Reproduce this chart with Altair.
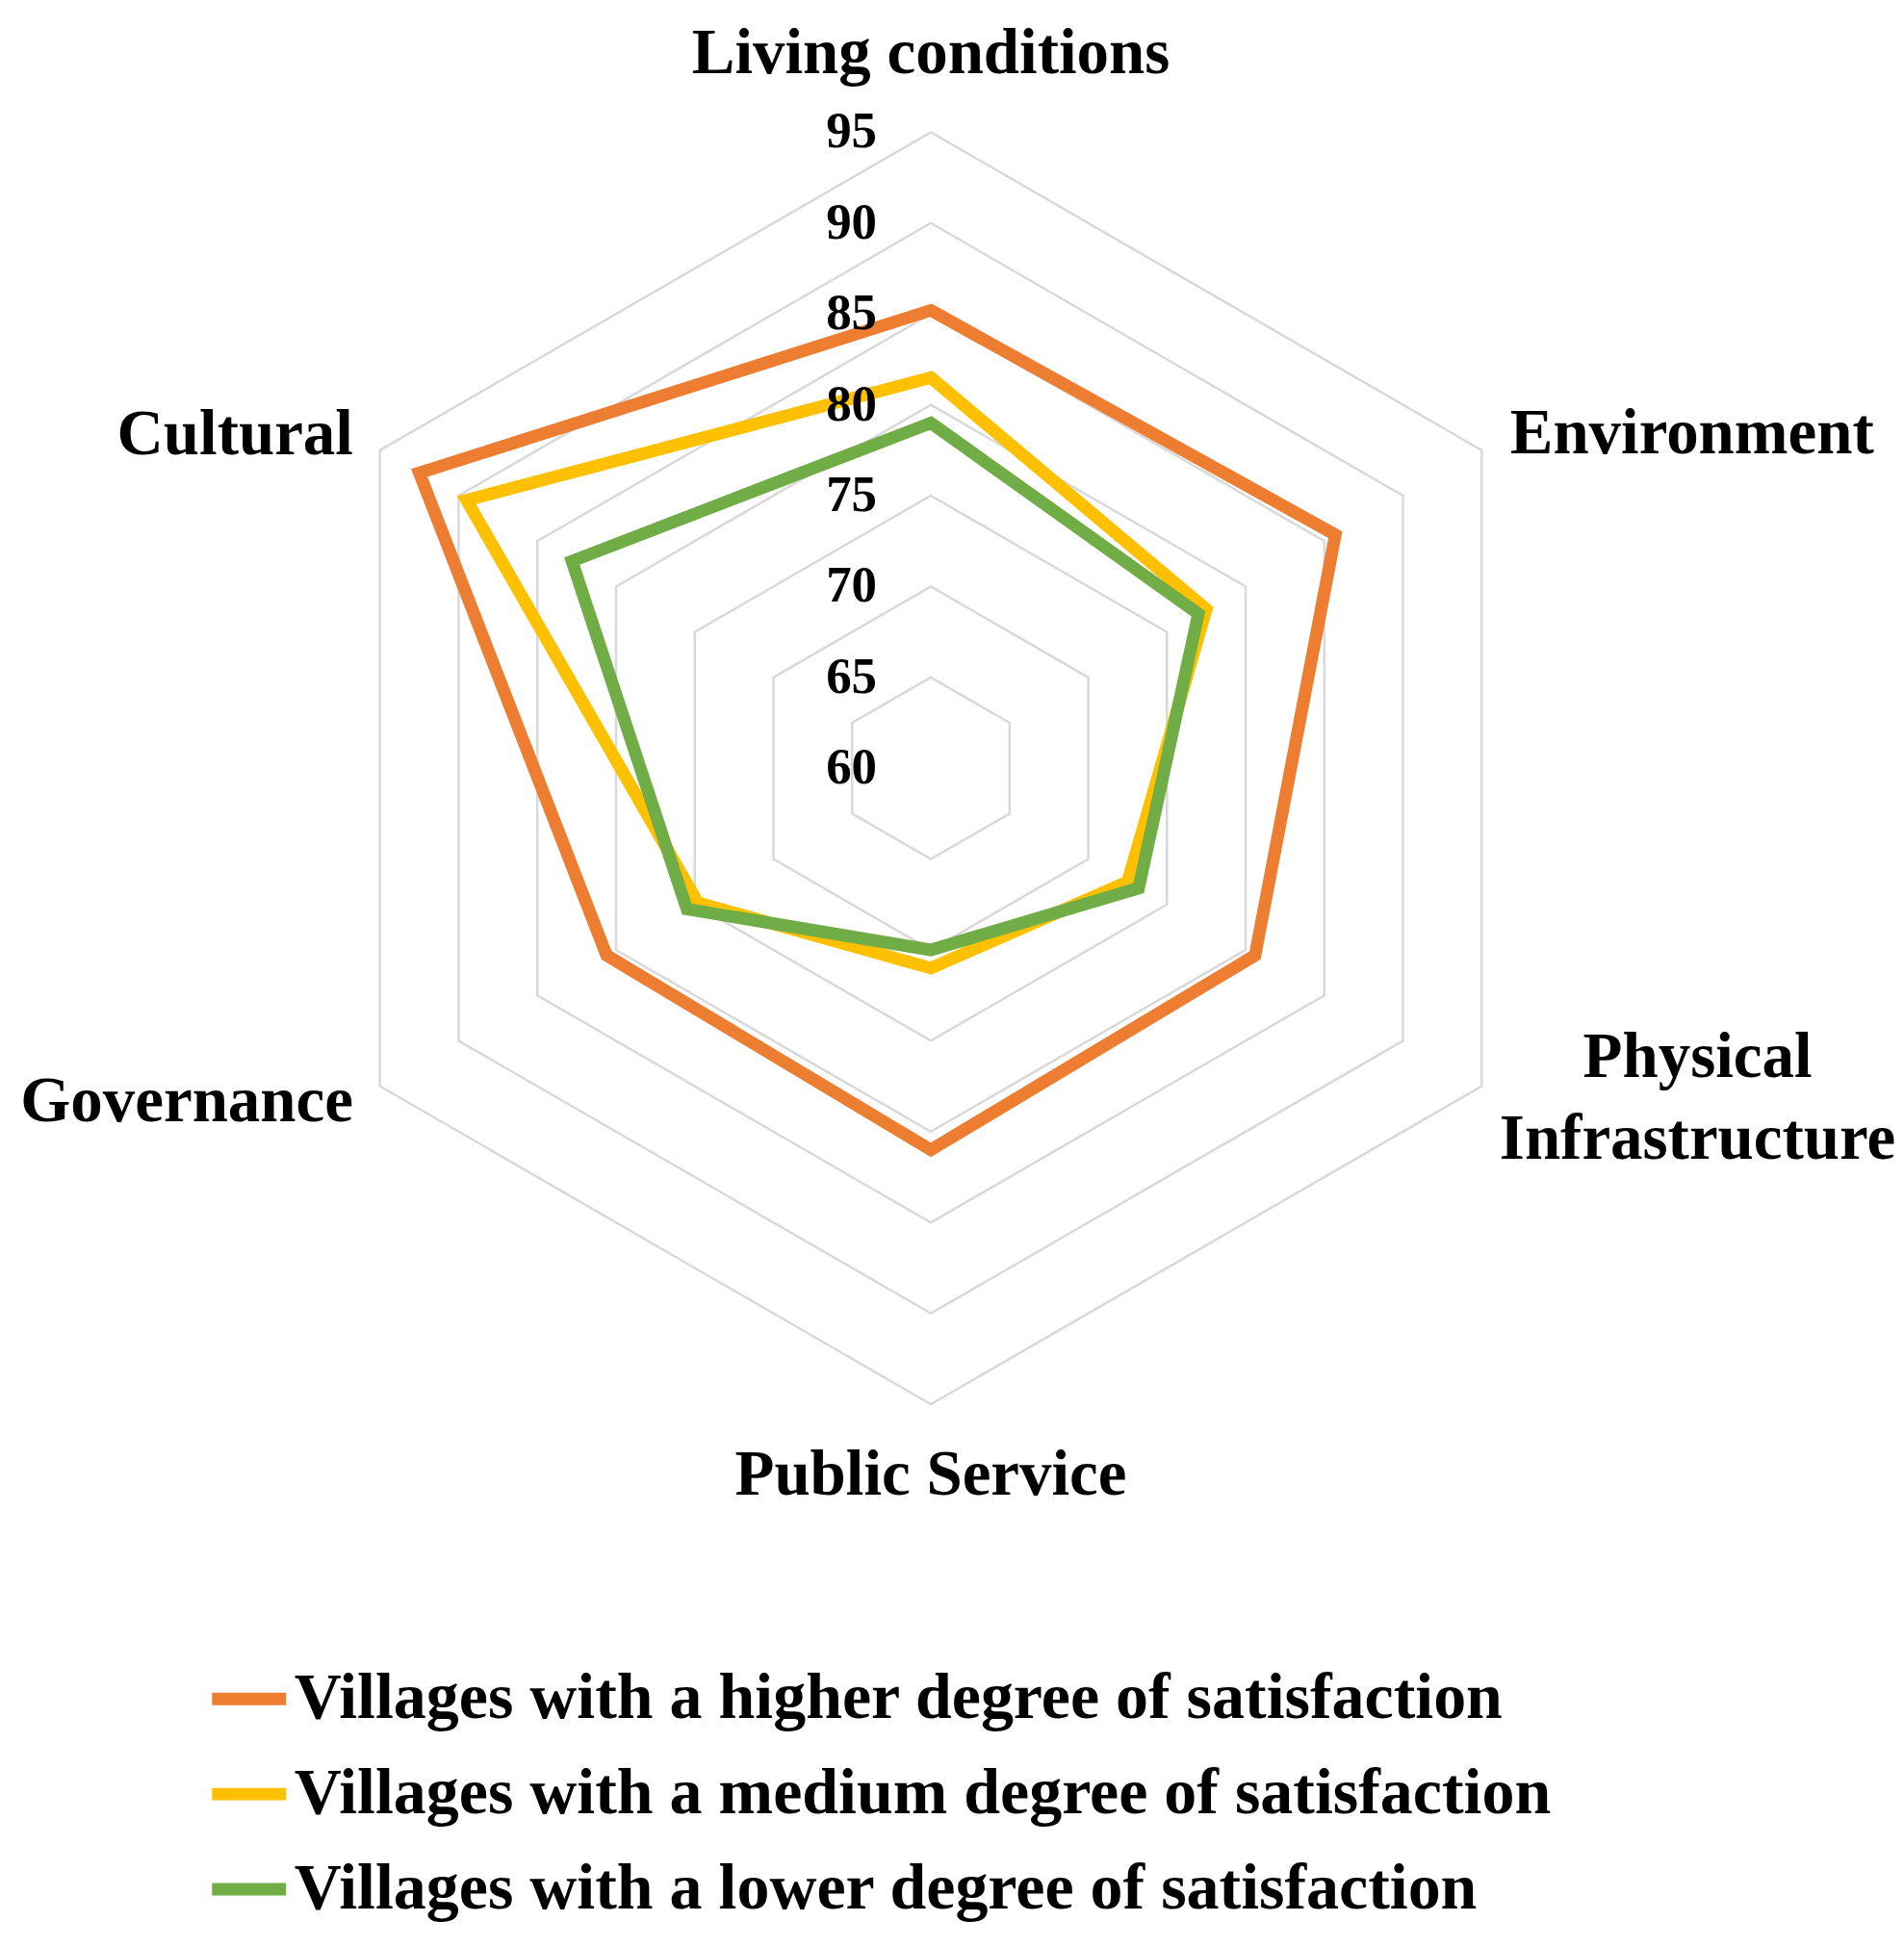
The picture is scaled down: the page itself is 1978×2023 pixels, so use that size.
import altair as alt
import pandas as pd

# ---------------- data ----------------
categories = ["Living conditions", "Environment", "Physical Infrastructure",
              "Public Service", "Governance", "Cultural"]
series_names = ["Villages with a higher degree of satisfaction",
                "Villages with a medium degree of satisfaction",
                "Villages with a lower degree of satisfaction"]
higher = [85.2, 85.7, 80.6, 81.0, 80.6, 92.5]
medium = [81.5, 77.5, 72.5, 71.0, 74.8, 89.5]
lower = [79.0, 77.0, 73.2, 70.0, 75.5, 82.8]
tick_values = [60, 65, 70, 75, 80, 85, 90, 95]
colors = ["#ED7D31", "#FFC000", "#70AD47"]

R0 = tick_values[0]

series_rows = []
for s, vals in zip(series_names, [higher, medium, lower]):
    for i, (c, v) in enumerate(zip(categories, vals)):
        series_rows.append({"series": s, "category": c, "idx": i, "value": v})
series_df = pd.DataFrame(series_rows)

ring_rows = []
for t in tick_values[1:]:
    for i, c in enumerate(categories):
        ring_rows.append({"ring": t, "category": c, "idx": i, "value": t})
ring_df = pd.DataFrame(ring_rows)

tick_df = pd.DataFrame({"value": tick_values, "idx": [0] * len(tick_values),
                        "label": [str(t) for t in tick_values]})

# ---------------- layout ----------------
W, H = 1962, 2000
PX = 18.9            # pixels per unit
CX, CY = 960, 790    # centre inside the plot area
xdom = [-CX / PX, (W - CX) / PX]
ydom = [-(H - CY) / PX, CY / PX]

FONT = "Liberation Serif"

def polar(chart):
    return chart.transform_calculate(
        r=f"datum.value - {R0}",
        px="(datum.value - %d) * sin(datum.idx * PI / 3)" % R0,
        py="(datum.value - %d) * cos(datum.idx * PI / 3)" % R0,
    )

X = alt.X("px:Q", scale=alt.Scale(domain=xdom, nice=False, zero=False), axis=None)
Y = alt.Y("py:Q", scale=alt.Scale(domain=ydom, nice=False, zero=False), axis=None)

rings = polar(alt.Chart(ring_df)).mark_line(
    interpolate="linear-closed", stroke="#D9D9D9", strokeWidth=2.5
).encode(x=X, y=Y, detail="ring:N", order="idx:Q")

color = alt.Color("series:N",
                  scale=alt.Scale(domain=series_names, range=colors),
                  legend=alt.Legend(title=None))

series_layers = []
for s in series_names:
    series_layers.append(
        polar(alt.Chart(series_df)).transform_filter(alt.datum.series == s)
        .mark_line(interpolate="linear-closed", strokeWidth=13, strokeJoin="miter")
        .encode(x=X, y=Y, color=color, order="idx:Q")
    )

ticks = polar(alt.Chart(tick_df)).mark_text(
    font=FONT, fontSize=53, fontWeight="bold", align="right", baseline="middle",
    dx=-56, color="#000000"
).encode(x=X, y=Y, text="label:N")

# category label layout: (radius offset, align, dx, dy)
label_layout = {
    "Living conditions": (39.3, "center", 0, 0),
    "Environment": (36.8, "left", 0, 0),
    "Physical Infrastructure": (36.8, "center", 195, -47),
    "Public Service": (38.9, "center", 0, 0),
    "Governance": (36.7, "right", 0, 0),
    "Cultural": (36.7, "right", 0, 0),
}
label_layers = []
for i, c in enumerate(categories):
    rr, al, dx, dy = label_layout[c]
    ldf = pd.DataFrame({"category": [c], "idx": [i], "value": [R0 + rr],
                        "text": [c.replace(" ", "\n") if c == "Physical Infrastructure" else c]})
    label_layers.append(
        polar(alt.Chart(ldf)).mark_text(
            font=FONT, fontSize=67, fontWeight="bold", align=al, baseline="middle",
            dx=dx, dy=dy, lineBreak="\n", lineHeight=85, color="#000000"
        ).encode(x=X, y=Y, text="text:N")
    )

chart = alt.layer(rings, *series_layers, ticks, *label_layers).properties(
    width=W, height=H, padding=0
).configure_view(stroke=None).configure_legend(
    orient="none", legendX=206, legendY=1713, padding=0,
    symbolType="stroke", symbolSize=5929, symbolStrokeWidth=13,
    labelFont=FONT, labelFontSize=68, labelFontWeight="bold", labelColor="#000000",
    labelLimit=3000, labelOffset=2, rowPadding=20,
)

chart.save("out.html", embed_options={"renderer": "svg", "actions": False})
